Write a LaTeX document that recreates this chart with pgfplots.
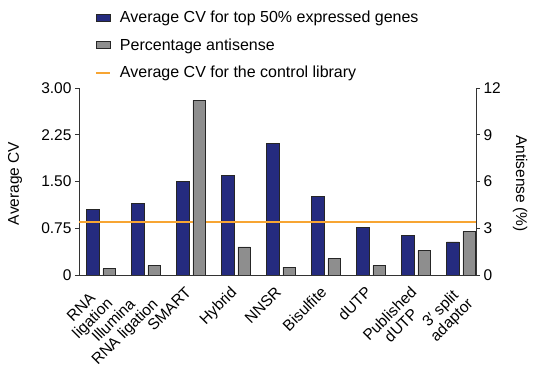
\documentclass[border=0pt]{standalone}
\usepackage{pgfplots}
\pgfplotsset{compat=1.18}
\usepackage{fontspec}
\setmainfont{Liberation Sans}
\definecolor{navy}{HTML}{252B7F}
\definecolor{gbar}{HTML}{8E8E8E}
\definecolor{orng}{HTML}{F7A533}
\newcommand{\fs}{\fontsize{15.5bp}{17bp}\selectfont}
\begin{document}
\begin{tikzpicture}
\useasboundingbox (0,0) rectangle (540bp,374bp);
\pgfplotsset{
  common/.style={
    at={(79bp,99bp)}, anchor=south west,
    scale only axis, width=397bp, height=187bp,
    xmin=-0.489, xmax=8.333,
    tick align=outside, major tick length=4bp,
    tick label style={font=\fs},
    label style={font=\fs},
    /pgf/number format/assume math mode=true,
    axis line style={line width=0.8pt, black!80},
    tick style={line width=0.8pt, black!80},
  }
}
\begin{axis}[common,
  axis y line*=left, axis x line*=bottom,
  ymin=0, ymax=3,
  ytick={0,0.75,1.5,2.25,3}, yticklabels={0,0.75,1.50,2.25,3.00},
  xtick={0,...,8}, major x tick style={draw=none},
  xticklabels={RNA\\ligation, Illumina\\RNA ligation, SMART, Hybrid, NNSR, Bisulfite, dUTP, Published\\dUTP, 3′ split\\adaptor},
  x tick label style={xshift=-6.5bp, yshift=-5bp, rotate=45, anchor=north east, align=center, inner sep=1bp,
    font=\fontsize{15.5bp}{16bp}\selectfont},
  ylabel={Average CV},
  y label style={at={(axis description cs:-0.161,0.49)}, anchor=center},
]
\addplot[ybar, bar width=0.28, bar shift=-0.182, fill=navy, draw=black!85, line width=0.7pt]
  coordinates {(0,1.05) (1,1.15) (2,1.50) (3,1.60) (4,2.11) (5,1.26) (6,0.76) (7,0.63) (8,0.53)};
\addplot[orng, line width=2.2bp] coordinates {(-0.489,0.845) (8.333,0.845)};
\end{axis}
\begin{axis}[common,
  axis y line*=right, axis x line=none,
  ymin=0, ymax=12, ytick={0,3,6,9,12},
  ylabel={Antisense (\%)},
  y label style={at={(axis description cs:1.111,0.49)}, anchor=center, rotate=180},
  legend style={at={(axis description cs:0.032,1.434)}, anchor=north west, draw=none, fill=none,
    font=\fontsize{16bp}{18bp}\selectfont, row sep=10.5bp, cells={anchor=west}},
  legend cell align=left,
]
\addlegendimage{legend image code/.code={\draw[fill=navy, draw=black!85, line width=0.7pt] (0bp,-3.5bp) rectangle (14bp,3.5bp); \path[draw=none,fill=none] (0bp,0bp) -- (22bp,0bp);}}
\addlegendentry{Average CV for top 50\% expressed genes}
\addplot[ybar, bar width=0.28, bar shift=0.182, fill=gbar, draw=black!85, line width=0.7pt,
  legend image code/.code={\draw[fill=gbar, draw=black!85, line width=0.7pt] (0bp,-3.5bp) rectangle (14bp,3.5bp); \path[draw=none,fill=none] (0bp,0bp) -- (22bp,0bp);}]
  coordinates {(0,0.40) (1,0.60) (2,11.2) (3,1.80) (4,0.50) (5,1.05) (6,0.60) (7,1.56) (8,2.78)};
\addlegendentry{Percentage antisense}
\addlegendimage{legend image code/.code={\draw[orng, line width=2.2bp] (0bp,0bp) -- (14bp,0bp); \path[draw=none,fill=none] (0bp,0bp) -- (22bp,0bp);}}
\addlegendentry{Average CV for the control library}
\end{axis}
\end{tikzpicture}
\end{document}
